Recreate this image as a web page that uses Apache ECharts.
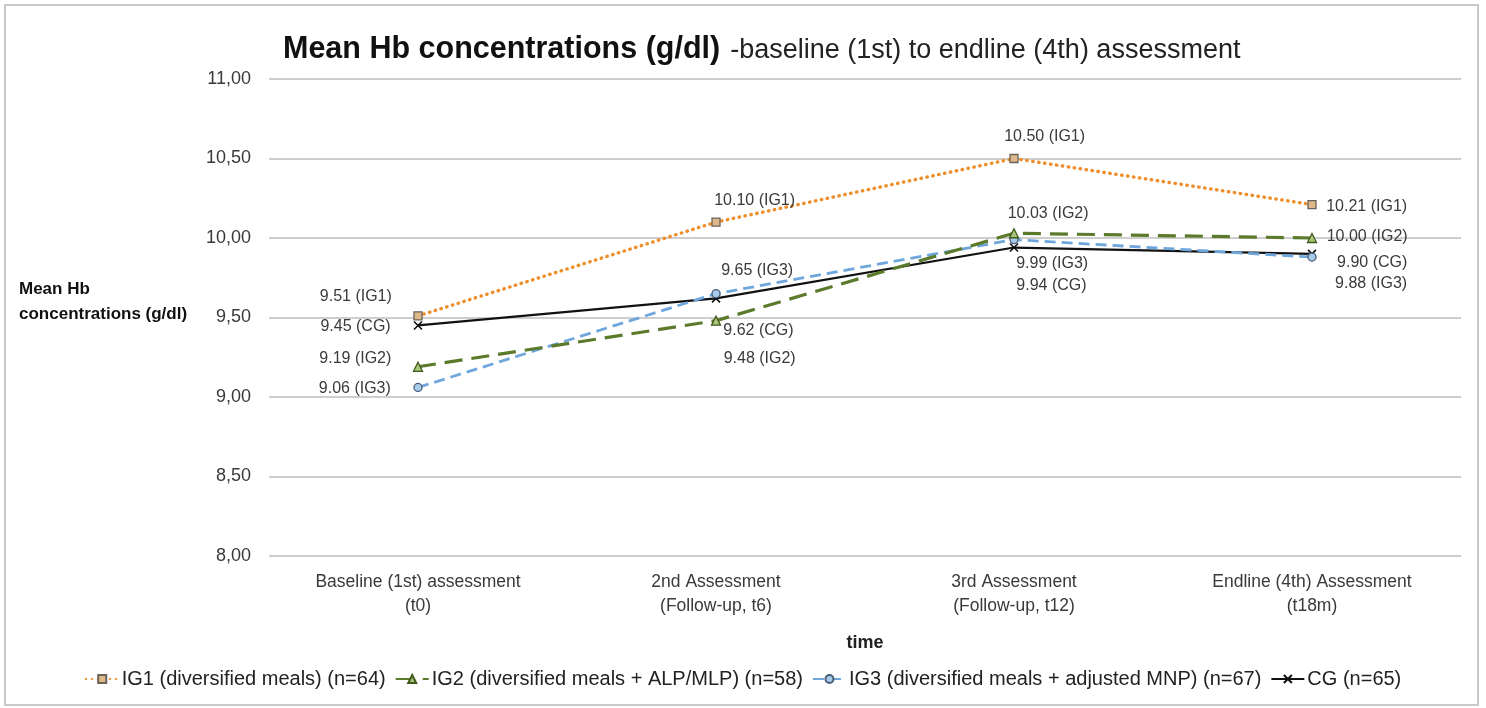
<!DOCTYPE html>
<html>
<head>
<meta charset="utf-8">
<script src="https://cdn.jsdelivr.net/npm/echarts@6/dist/echarts.min.js"></script>
<style>
  html, body { margin: 0; padding: 0; background: #fff; }
  #chart { width: 1486px; height: 708px; }
</style>
</head>
<body>
<div id="chart"></div>
<script>
// Assessment rounds (x axis)
const categories = [
  'Baseline (1st) assessment\n(t0)',
  '2nd Assessment\n(Follow-up, t6)',
  '3rd Assessment\n(Follow-up, t12)',
  'Endline (4th) Assessment\n(t18m)'
];

// Mean Hb (g/dl) per group
const ig1 = [9.51, 10.10, 10.50, 10.21];
const ig2 = [9.19, 9.48, 10.03, 10.00];
const ig3 = [9.06, 9.65, 9.99, 9.88];
const cg  = [9.45, 9.62, 9.94, 9.90];

const seriesNames = [
  'IG1 (diversified meals) (n=64)',
  'IG2 (diversified meals + ALP/MLP) (n=58)',
  'IG3 (diversified meals + adjusted MNP) (n=67)',
  'CG (n=65)'
];
const seriesTags = ['IG1', 'IG2', 'IG3', 'CG'];

// y axis range and ticks
const yMin = 8, yMax = 11, yStep = 0.5;

const FONT = '"Liberation Sans", Arial, sans-serif';
const TEXT = '#3a3a3a';

// Label placement per point: [side, dx, dy, align]
const placement = {
  IG1: [['left', -21.5, -19], ['right', -6.5, -22], ['right', -14.5, -22], ['right', 90.5, 2, 'right']],
  IG2: [['left', -21.5, -8],  ['right', 2.5, 38],   ['right', -11.5, -20], ['right', 90.5, -1, 'right']],
  IG3: [['left', -22.5, 1],   ['right', 0.5, -23],  ['right', -2.5, 24],   ['right', 90.5, 27, 'right']],
  CG:  [['left', -22.5, 1.5], ['right', 2.5, 32],   ['right', -2.5, 38.5], ['right', 90.5, 9, 'right']]
};

function buildData(values, tag) {
  return values.map((v, i) => {
    const p = placement[tag][i];
    const label = {
      show: true,
      position: p[0],
      distance: 0,
      offset: [p[1], p[2]],
      formatter: v.toFixed(2) + ' (' + tag + ')',
      color: TEXT,
      fontFamily: FONT,
      fontSize: 16
    };
    if (p[3]) label.align = p[3];
    return { value: v, label: label };
  });
}

const crossPath = 'path://M0,0L10,10M10,0L0,10';

const styles = [
  { color: '#EE8F2C', type: [0.5, 5.5], width: 3.4, cap: 'round',
    symbol: 'rect', symbolSize: 8, fill: '#DDB98C', border: '#6b6258' },
  { color: '#5C7A2B', type: [18, 9], width: 3.2, cap: 'butt',
    symbol: 'triangle', symbolSize: 9, fill: '#A9C67A', border: '#3f5a1b' },
  { color: '#6FA6DC', type: [11, 6], width: 2.8, cap: 'butt',
    symbol: 'circle', symbolSize: 8, fill: '#A9CBEA', border: '#4a5f78' },
  { color: '#111111', type: 'solid', width: 2.2, cap: 'butt',
    symbol: crossPath, symbolSize: 8, fill: '#111111', border: '#111111' }
];

const allValues = [ig1, ig2, ig3, cg];

const series = allValues.map((vals, k) => {
  const s = styles[k];
  return {
    name: seriesNames[k],
    type: 'line',
    data: buildData(vals, seriesTags[k]),
    symbol: s.symbol,
    symbolSize: s.symbolSize,
    showAllSymbol: true,
    lineStyle: { color: s.color, width: s.width, type: s.type, cap: s.cap },
    itemStyle: { color: s.fill, borderColor: s.border, borderWidth: k === 3 ? 1.6 : 1.3 },
    emphasis: { disabled: true },
    z: 10 - k,
    animation: false
  };
});

const chart = echarts.init(document.getElementById('chart'), null, { renderer: 'canvas' });

chart.setOption({
  backgroundColor: '#fff',
  animation: false,
  textStyle: { fontFamily: FONT },
  title: {
    left: 278,
    top: 29,
    text: '{b|Mean Hb concentrations (g/dl)}{r|-baseline (1st) to endline (4th) assessment}',
    textStyle: {
      rich: {
        b: { fontFamily: FONT, fontWeight: 'bold', fontSize: 30.5, color: '#111' },
        r: { fontFamily: FONT, fontWeight: 'normal', fontSize: 27, color: '#222', padding: [3, 0, 0, 10] }
      }
    }
  },
  grid: { left: 269, right: 25, top: 79, bottom: 152 },
  legend: {
    bottom: 14,
    left: 'center',
    itemWidth: 33,
    itemHeight: 10,
    itemGap: 9,
    textStyle: { fontFamily: FONT, fontSize: 20, color: '#222', padding: [0, 0, 0, -2] },
    data: seriesNames
  },
  xAxis: {
    type: 'category',
    data: categories,
    boundaryGap: true,
    name: 'time',
    nameLocation: 'middle',
    nameGap: 78,
    nameTextStyle: { fontFamily: FONT, fontWeight: 'bold', fontSize: 18, color: '#222' },
    axisLine: { show: false },
    axisTick: { show: false },
    axisLabel: { color: TEXT, fontFamily: FONT, fontSize: 17.5, lineHeight: 24, margin: 14 }
  },
  yAxis: {
    type: 'value',
    min: yMin,
    max: yMax,
    interval: yStep,
    axisLine: { show: false },
    axisTick: { show: false },
    splitLine: { lineStyle: { color: '#BEBEBE', width: 1.6 } },
    axisLabel: {
      color: TEXT, fontFamily: FONT, fontSize: 18, margin: 18,
      formatter: v => v.toFixed(2).replace('.', ',')
    }
  },
  graphic: [
    {
      type: 'rect',
      shape: { x: 5, y: 5, width: 1473, height: 700 },
      style: { fill: 'none', stroke: '#C8C8C8', lineWidth: 2 },
      silent: true, z: -1
    },
    {
      type: 'text',
      left: 19,
      top: 277,
      style: {
        text: 'Mean Hb\nconcentrations (g/dl)',
        fontFamily: FONT, fontWeight: 'bold', fontSize: 17, lineHeight: 25, fill: '#111'
      }
    }
  ],
  series: series
});
</script>
</body>
</html>
